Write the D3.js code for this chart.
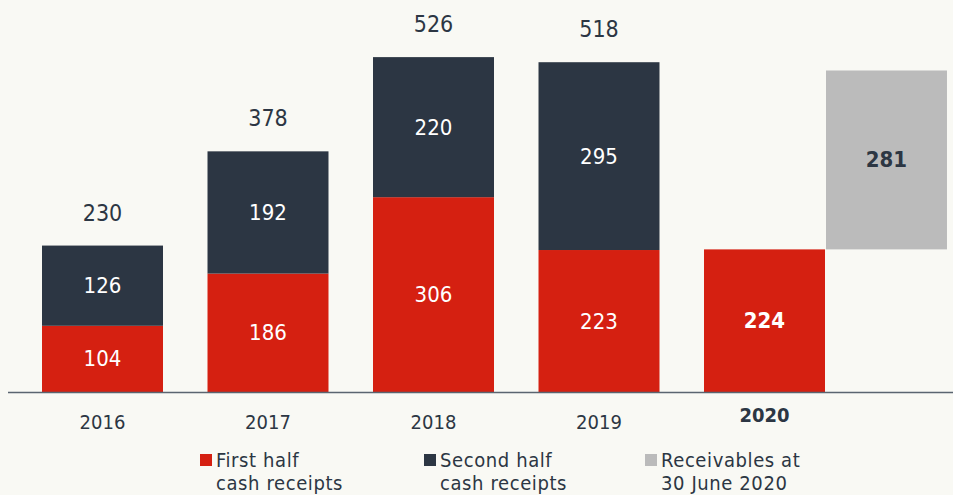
<!DOCTYPE html>
<meta charset="utf-8">
<html>
<script src="https://d3js.org/d3.v7.min.js"></script>
<style>
  body { margin: 0; background: #f9f9f4; }
  text { font-family: "DejaVu Sans Condensed", "DejaVu Sans", sans-serif; }
</style>
<div id="chart"></div>
<script>
// data
var years = ["2016", "2017", "2018", "2019", "2020"];
var firstHalf = [104, 186, 306, 223, 224];
var secondHalf = [126, 192, 220, 295, null];
var totals = [230, 378, 526, 518, null];
var receivables = 281; // at 30 June 2020, stacked on the 2020 first half
var legendLabels = [["First half", "cash receipts"], ["Second half", "cash receipts"], ["Receivables at", "30 June 2020"]];

var width = 953, height = 495, base = 392;
var red = "#d52011", dark = "#2c3643", grey = "#bbbbbb";

var svg = d3.select("#chart").append("svg")
  .attr("width", width).attr("height", height);

var x = d3.scaleBand()
  .domain(years)
  .range([19.75, 847.25])
  .paddingInner(0.269)
  .paddingOuter(0.1345);

var y = d3.scaleLinear().domain([0, 600]).range([base, base - 382]);

var bw = x.bandwidth();

// first half (red)
svg.selectAll("rect.first")
  .data(years)
  .enter().append("rect")
    .attr("class", "first")
    .attr("x", function(d) { return x(d); })
    .attr("y", function(d, i) { return y(firstHalf[i]); })
    .attr("width", bw)
    .attr("height", function(d, i) { return y(0) - y(firstHalf[i]); })
    .attr("fill", red);

// second half (dark)
var sec = years.map(function(d, i) { return {year: d, lo: firstHalf[i], v: secondHalf[i]}; })
  .filter(function(d) { return d.v != null; });

svg.selectAll("rect.second")
  .data(sec)
  .enter().append("rect")
    .attr("class", "second")
    .attr("x", function(d) { return x(d.year); })
    .attr("y", function(d) { return y(d.lo + d.v); })
    .attr("width", bw)
    .attr("height", function(d) { return y(d.lo) - y(d.lo + d.v); })
    .attr("fill", dark);

// receivables, floating next to 2020
var last = years.length - 1;
svg.append("rect")
  .attr("x", x("2020") + bw + 1)
  .attr("y", y(firstHalf[last] + receivables))
  .attr("width", bw)
  .attr("height", y(firstHalf[last]) - y(firstHalf[last] + receivables))
  .attr("fill", grey);

// value labels inside segments
svg.selectAll("text.lab1")
  .data(years)
  .enter().append("text")
    .attr("x", function(d) { return x(d) + bw / 2; })
    .attr("y", function(d, i) { return y(firstHalf[i] / 2); })
    .attr("text-anchor", "middle")
    .attr("dominant-baseline", "central")
    .attr("fill", "#fff")
    .attr("font-size", 22)
    .attr("font-weight", function(d) { return d == "2020" ? "bold" : "normal"; })
    .text(function(d, i) { return firstHalf[i]; });

svg.selectAll("text.lab2")
  .data(sec)
  .enter().append("text")
    .attr("x", function(d) { return x(d.year) + bw / 2; })
    .attr("y", function(d) { return y(d.lo + d.v / 2); })
    .attr("text-anchor", "middle")
    .attr("dominant-baseline", "central")
    .attr("fill", "#fff")
    .attr("font-size", 22)
    .text(function(d) { return d.v; });

svg.append("text")
  .attr("x", x("2020") + bw * 1.5 + 1)
  .attr("y", y(firstHalf[last] + receivables / 2))
  .attr("text-anchor", "middle")
  .attr("dominant-baseline", "central")
  .attr("fill", dark)
  .attr("font-size", 22)
  .attr("font-weight", "bold")
  .text(receivables);

// totals above bars
svg.selectAll("text.total")
  .data(years.filter(function(d, i) { return totals[i] != null; }))
  .enter().append("text")
    .attr("x", function(d) { return x(d) + bw / 2; })
    .attr("y", function(d, i) { return y(totals[i]) - 33; })
    .attr("text-anchor", "middle")
    .attr("dominant-baseline", "central")
    .attr("fill", dark)
    .attr("font-size", 23)
    .text(function(d, i) { return totals[i]; });

// baseline
svg.append("line")
  .attr("x1", 8).attr("x2", width)
  .attr("y1", base + 0.5).attr("y2", base + 0.5)
  .attr("stroke", "#5a6570").attr("stroke-width", 1.5);

// year labels
svg.selectAll("text.year")
  .data(years)
  .enter().append("text")
    .attr("x", function(d) { return x(d) + bw / 2; })
    .attr("y", function(d) { return d == "2020" ? 415 : 422; })
    .attr("text-anchor", "middle")
    .attr("dominant-baseline", "central")
    .attr("fill", dark)
    .attr("font-size", 20)
    .attr("font-weight", function(d) { return d == "2020" ? "bold" : "normal"; })
    .text(function(d) { return d; });

// legend
var legX = [200, 424, 645];
var legC = [red, dark, grey];
var leg = svg.selectAll("g.legend")
  .data(legendLabels)
  .enter().append("g")
    .attr("class", "legend")
    .attr("transform", function(d, i) { return "translate(" + legX[i] + ",0)"; });

leg.append("rect")
  .attr("x", 0).attr("y", 454)
  .attr("width", 12).attr("height", 12)
  .attr("fill", function(d, i) { return legC[i]; });

leg.append("text")
  .attr("x", 16).attr("y", 467)
  .attr("fill", dark)
  .attr("font-size", 20)
  .attr("letter-spacing", 0.6)
  .text(function(d) { return d[0]; });

leg.append("text")
  .attr("x", 16).attr("y", 490)
  .attr("fill", dark)
  .attr("font-size", 20)
  .attr("letter-spacing", 0.6)
  .text(function(d) { return d[1]; });
</script>
</html>
